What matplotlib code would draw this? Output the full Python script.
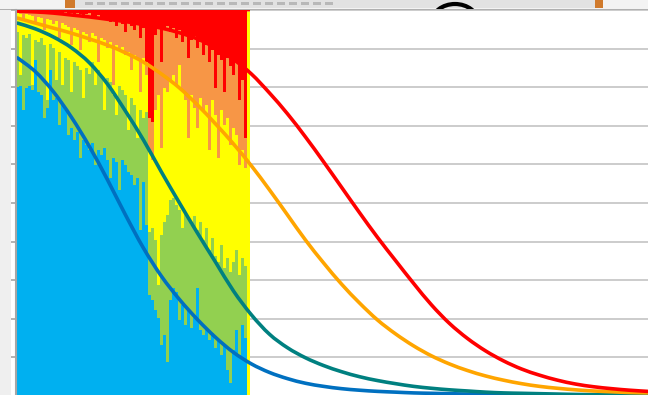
import numpy as np
import matplotlib
matplotlib.use("Agg")
import matplotlib.pyplot as plt
from matplotlib.patches import Rectangle, Ellipse, PathPatch
from matplotlib.path import Path

# ---- 100 % stacked columns: cumulative upper edge (%) of each layer per column ----
blue_top = [80.1, 80.3, 74.1, 79.8, 80.3, 79.3, 87.0, 78.8, 78.0, 72.0,
            74.6, 84.5, 76.7, 77.2, 70.2, 75.6, 74.1, 67.6, 69.4, 66.3,
            68.4, 61.7, 66.3, 65.0, 63.7, 65.5, 59.8, 63.7, 62.4, 64.2,
            61.1, 56.5, 61.7, 60.6, 53.4, 61.1, 59.8, 58.0, 57.3, 54.7,
            56.5, 43.0, 55.4, 44.3, 26.2, 24.9, 22.3, 20.2, 13.2, 15.8,
            8.8, 24.9, 28.0, 26.9, 19.7, 23.6, 18.4, 22.3, 17.6, 20.2,
            28.0, 17.1, 15.8, 17.6, 14.5, 16.3, 12.4, 14.5, 10.6, 13.2,
            6.7, 3.4, 11.9, 17.1, 10.6, 18.4, 15.0, 0.3]
green_top = [94.3, 83.2, 93.5, 92.7, 93.8, 80.6, 92.2, 91.7, 92.7, 90.9,
             76.7, 91.2, 90.2, 81.9, 89.1, 80.6, 87.6, 87.0, 78.8, 86.5,
             85.5, 84.5, 77.2, 85.0, 83.4, 86.5, 80.6, 84.5, 82.9, 74.1,
             82.4, 81.3, 78.0, 72.8, 80.3, 79.3, 78.0, 68.9, 77.2, 75.4,
             66.8, 74.1, 72.0, 73.6, 42.5, 43.5, 40.4, 28.8, 41.7, 45.1,
             46.9, 50.8, 51.3, 49.5, 48.2, 43.5, 47.7, 46.1, 44.3, 46.6,
             43.0, 45.1, 40.4, 43.5, 37.8, 40.9, 36.3, 34.7, 39.1, 33.2,
             35.8, 32.1, 34.7, 37.8, 31.3, 35.8, 33.7, 0.3]
yellow_top = [99.2, 99.0, 97.4, 99.0, 98.7, 98.4, 96.9, 98.2, 97.9, 94.8,
              97.7, 97.4, 96.4, 97.2, 92.7, 96.6, 96.1, 95.6, 90.9, 95.3,
              94.8, 89.6, 94.3, 93.8, 91.7, 94.0, 93.3, 86.5, 92.7, 92.2,
              90.2, 91.7, 80.6, 90.9, 89.6, 90.4, 88.3, 89.1, 84.5, 88.3,
              87.0, 78.8, 87.6, 83.2, 63.7, 61.1, 74.1, 78.0, 64.2, 79.8,
              78.8, 81.9, 83.2, 80.6, 85.8, 79.3, 76.7, 66.8, 78.0, 74.6,
              69.4, 77.2, 73.6, 75.4, 63.7, 76.7, 72.8, 61.7, 74.1, 70.2,
              72.0, 65.0, 69.4, 67.6, 59.8, 63.7, 59.1, 99.5]
orange_top = [99.7, 99.7, 99.5, 99.7, 99.5, 99.7, 99.2, 99.5, 99.7, 99.5,
              99.0, 99.5, 99.2, 99.5, 99.0, 99.2, 99.5, 99.0, 99.2, 98.7,
              99.2, 99.0, 98.4, 99.0, 99.2, 98.4, 97.9, 98.7, 98.2, 97.4,
              97.9, 96.9, 97.7, 95.9, 97.4, 96.4, 94.3, 96.9, 95.9, 94.8,
              96.4, 92.7, 95.3, 86.5, 72.0, 71.0, 93.5, 95.3, 86.5, 94.8,
              95.9, 94.3, 95.3, 92.7, 94.8, 91.7, 93.5, 87.6, 92.2, 93.3,
              90.2, 91.7, 88.3, 90.9, 86.5, 89.6, 79.8, 88.3, 87.0, 78.8,
              87.6, 85.5, 83.2, 86.5, 76.7, 81.9, 66.8, 99.7]
# red fills each column up to 100 %

# ---- smoothed curves (%), sampled every 6 categories ----
line_x = list(range(0, 211, 6))
red_line = [99.7, 99.5, 99.2, 98.7, 98.2, 97.6, 97.0, 96.2, 95.3, 94.1,
            92.5, 90.2, 87.2, 83.4, 78.5, 73.1, 67.1, 60.7, 54.1, 47.5,
            41.1, 35.1, 29.2, 23.6, 18.8, 14.9, 11.7, 9.1, 7.0, 5.4,
            4.1, 3.1, 2.4, 1.9, 1.5, 1.2]
orange_line = [97.9, 96.6, 95.3, 94.0, 92.5, 90.9, 88.9, 86.5, 83.4, 79.8,
               75.4, 70.5, 65.3, 59.6, 53.4, 46.9, 40.4, 34.5, 29.0, 24.1,
               19.7, 16.1, 13.0, 10.4, 8.3, 6.6, 5.2, 4.1, 3.2, 2.5,
               2.0, 1.6, 1.3, 1.1, 0.9, 0.8]
teal_line = [96.6, 95.1, 93.0, 90.2, 86.3, 80.8, 73.8, 66.3, 58.0, 50.0,
             42.2, 34.7, 27.2, 21.0, 16.0, 12.5, 9.9, 7.9, 6.3, 5.0,
             4.0, 3.2, 2.5, 2.0, 1.6, 1.3, 1.0, 0.8, 0.7, 0.6,
             0.5, 0.4, 0.35, 0.3, 0.25, 0.2]
blue_line = [87.6, 84.0, 78.8, 72.2, 64.6, 56.0, 46.9, 38.3, 31.0, 25.0,
             19.8, 15.2, 11.3, 8.3, 6.1, 4.5, 3.3, 2.5, 1.9, 1.5,
             1.2, 1.0, 0.8, 0.7, 0.6, 0.5, 0.45, 0.4, 0.35, 0.3,
             0.3, 0.25, 0.2, 0.2, 0.15, 0.15]

y_ticks = list(range(0, 101, 10))

W, H = 648, 395
fig = plt.figure(figsize=(W / 100, H / 100), dpi=100)
fig.patch.set_facecolor("white")

# background window decoration (screenshot surroundings)
bg = fig.add_axes([0, 0, 1, 1], zorder=0)
bg.set_xlim(0, W)
bg.set_ylim(H, 0)
bg.axis("off")
bg.add_patch(Rectangle((0, 0), 11, H, color="#EFEFEF", lw=0))
bg.add_patch(Rectangle((0, 0), W, 9, color="#F3F3F3", lw=0))
bg.add_patch(Rectangle((75, 0), 520, 8, color="#E2E2E2", lw=0))
bg.add_patch(Rectangle((65, 0), 10, 8, color="#D07A2C", lw=0))
bg.add_patch(Rectangle((595, 0), 8, 8, color="#D07A2C", lw=0))
for x0 in range(85, 330, 12):
    bg.add_patch(Rectangle((x0, 2), 8, 3, color="#B8B8B8", lw=0))
bg.add_patch(Ellipse((455, 22), 46, 36, fill=False, ec="black", lw=3))
bg.add_patch(Rectangle((0, 9), W, 1.2, color="#B0B0B0", lw=0))

# main plot area
left_px, top_px, bottom_px = 16, 10, 396
ax = fig.add_axes([left_px / W, 1 - bottom_px / H, (W - left_px) / W,
                   (bottom_px - top_px) / H], zorder=1)
ax.set_facecolor("white")

n = len(blue_top)
cats = np.arange(n)
levels = [np.zeros(n), np.array(blue_top), np.array(green_top),
          np.array(yellow_top), np.array(orange_top), np.full(n, 100.0)]
bar_colors = ["#00B0F0", "#92D050", "#FFFF00", "#F79646", "#FF0000"]
for i, c in enumerate(bar_colors):
    ax.bar(cats, levels[i + 1] - levels[i], bottom=levels[i], width=1.0,
           color=c, linewidth=0, antialiased=False, zorder=2)


def smooth_path(xs, ys):
    """Excel-style smoothed line: cubic Bezier through the data points."""
    p = np.column_stack([xs, ys]).astype(float)
    ext = np.vstack([p[0], p, p[-1]])
    verts = [p[0]]
    codes = [Path.MOVETO]
    for i in range(len(p) - 1):
        p0, p1, p2, p3 = ext[i], ext[i + 1], ext[i + 2], ext[i + 3]
        c1 = p1 + (p2 - p0) / 6.0
        c2 = p2 - (p3 - p1) / 6.0
        verts += [c1, c2, p2]
        codes += [Path.CURVE4] * 3
    return Path(verts, codes)


lw = 2.6
for ys, col, z in [(blue_line, "#0070C0", 3), (teal_line, "#008080", 4),
                   (orange_line, "#FFA500", 5), (red_line, "#FF0000", 6)]:
    ax.add_patch(PathPatch(smooth_path(line_x, ys), fill=False, ec=col,
                           lw=lw, zorder=z, capstyle="round",
                           joinstyle="round"))

ax.set_xlim(-0.5, -0.5 + (W - left_px) / 3.0)
ax.set_ylim(0, 100)
ax.set_yticks(y_ticks)
ax.set_yticklabels([])
ax.set_xticks([])
ax.yaxis.grid(True, color="#C8C8C8", lw=1.3, zorder=0)
ax.set_axisbelow(True)
ax.tick_params(axis="y", direction="out", length=3.5, width=1.2,
               color="#A6A6A6")
for side in ["top", "right", "bottom"]:
    ax.spines[side].set_visible(False)
ax.spines["left"].set_color("#A6A6A6")
ax.spines["left"].set_linewidth(1.5)
ax.spines["left"].set_zorder(7)

fig.savefig("out.png", dpi=100, facecolor=fig.get_facecolor())
